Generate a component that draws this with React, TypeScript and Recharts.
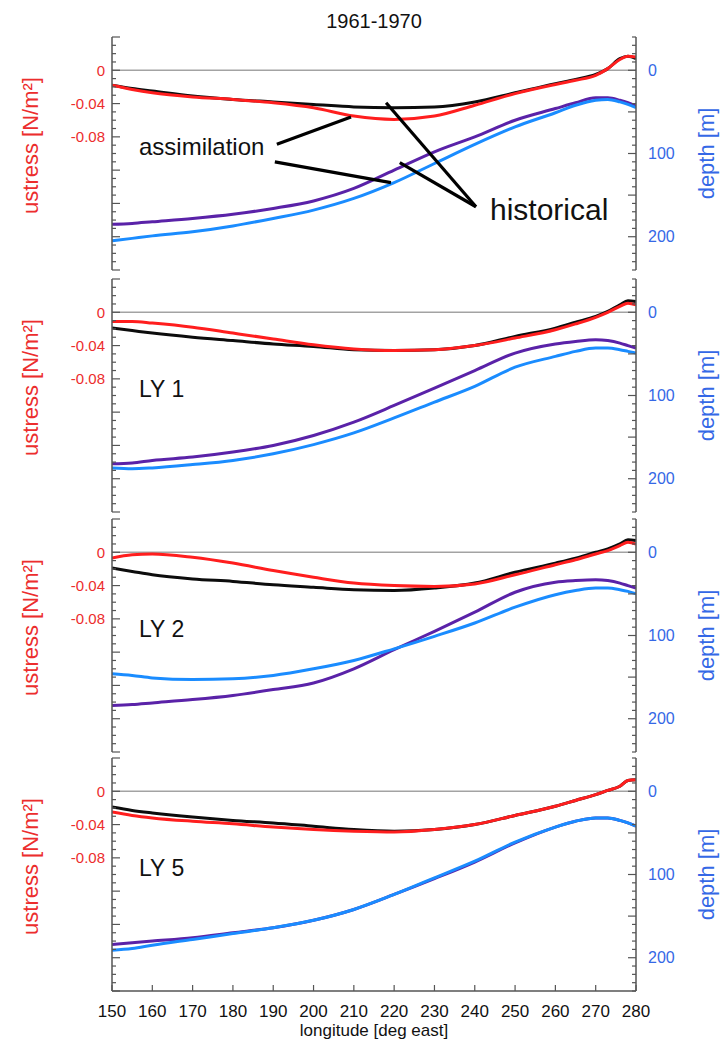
import React from 'react';
import { LineChart, Line, XAxis, YAxis, ReferenceLine } from 'recharts';

const FONT = '"Liberation Sans", Arial, Helvetica, sans-serif';
const RED = '#ff1e1e';
const RED_TXT = '#ec2d2d';
const BLACK = '#0c0c0c';
const PURPLE = '#5a22a8';
const BLUE = '#1a8cff';
const BLUE_TXT = '#3568e6';
const FRAME = '#555';

// longitude grid (deg east)
const lon = [150, 155, 160, 170, 180, 190, 200, 210, 220, 230, 240, 250, 260, 265, 270, 273, 276, 278, 280];

// 1961-1970
const assimStress1 = [-0.018, -0.023, -0.027, -0.032, -0.035, -0.039, -0.045, -0.055, -0.059, -0.055, -0.042, -0.028, -0.017, -0.012, -0.006, 0.002, 0.013, 0.017, 0.016];
const histStress1 = [-0.018, -0.022, -0.025, -0.031, -0.035, -0.038, -0.041, -0.044, -0.045, -0.044, -0.038, -0.027, -0.016, -0.011, -0.005, 0.002, 0.014, 0.017, 0.014];
const histDepth1 = [185, 184, 182, 178, 173, 166, 157, 142, 120, 98, 80, 60, 46, 39, 33, 33, 36, 39, 43];
const assimDepth1 = [205, 202, 199, 194, 187, 178, 168, 154, 135, 112, 89, 68, 51, 42, 36, 35, 38, 41, 45];

// LY 1
const assimStress2 = [-0.011, -0.011, -0.013, -0.018, -0.025, -0.032, -0.039, -0.044, -0.046, -0.045, -0.040, -0.031, -0.021, -0.014, -0.006, 0.000, 0.007, 0.011, 0.009];
const histStress2 = [-0.019, -0.022, -0.025, -0.030, -0.034, -0.038, -0.041, -0.045, -0.046, -0.045, -0.040, -0.029, -0.019, -0.012, -0.005, 0.001, 0.009, 0.014, 0.013];
const histDepth2 = [182, 181, 178, 174, 168, 160, 148, 132, 112, 91, 70, 49, 38, 35, 33, 34, 37, 40, 43];
const assimDepth2 = [187, 188, 187, 183, 178, 170, 159, 145, 127, 108, 89, 66, 53, 47, 43, 43, 45, 47, 49];

// LY 2
const assimStress3 = [-0.007, -0.003, -0.002, -0.006, -0.013, -0.022, -0.030, -0.037, -0.040, -0.041, -0.038, -0.027, -0.015, -0.009, -0.002, 0.002, 0.008, 0.012, 0.010];
const histStress3 = [-0.019, -0.023, -0.027, -0.032, -0.035, -0.039, -0.042, -0.045, -0.046, -0.043, -0.037, -0.024, -0.013, -0.007, 0.000, 0.004, 0.010, 0.015, 0.014];
const histDepth3 = [184, 183, 181, 177, 172, 165, 157, 140, 117, 95, 72, 48, 36, 34, 33, 34, 37, 40, 43];
const assimDepth3 = [146, 148, 151, 153, 152, 148, 140, 130, 116, 101, 85, 66, 51, 46, 43, 43, 45, 47, 50];

// LY 5
const assimStress4 = [-0.025, -0.029, -0.032, -0.036, -0.039, -0.043, -0.046, -0.048, -0.049, -0.046, -0.040, -0.029, -0.018, -0.011, -0.004, 0.001, 0.006, 0.013, 0.014];
const histStress4 = [-0.019, -0.023, -0.026, -0.031, -0.035, -0.038, -0.042, -0.046, -0.048, -0.046, -0.040, -0.029, -0.018, -0.011, -0.004, 0.001, 0.006, 0.013, 0.014];
const histDepth4 = [184, 182, 180, 176, 170, 164, 155, 142, 124, 105, 85, 62, 43, 36, 32, 32, 35, 38, 42];
const assimDepth4 = [191, 189, 185, 178, 171, 164, 155, 142, 124, 104, 84, 61, 43, 36, 32, 32, 35, 38, 42];

const lonTicks = [150, 160, 170, 180, 190, 200, 210, 220, 230, 240, 250, 260, 270, 280];
const stressLabels = [0, -0.04, -0.08];
const depthLabels = [0, 100, 200];
const panelTags = ['', 'LY 1', 'LY 2', 'LY 5'];

// minor tick positions
const stressTicks = Array.from({ length: 29 }, (_, i) => Math.round((0.04 - i * 0.01) * 100) / 100);
const depthTicks = Array.from({ length: 29 }, (_, i) => -40 + i * 10);

const build = (a: number[], h: number[], hd: number[], ad: number[]) =>
  lon.map((x, i) => ({ lon: x, assimStress: a[i], histStress: h[i], histDepth: hd[i], assimDepth: ad[i] }));

const panels = [
  build(assimStress1, histStress1, histDepth1, assimDepth1),
  build(assimStress2, histStress2, histDepth2, assimDepth2),
  build(assimStress3, histStress3, histDepth3, assimDepth3),
  build(assimStress4, histStress4, histDepth4, assimDepth4),
];

// annotation pointers on the top panel, in (lon, depth) units
const pointers = [
  [{ x: 190.9, y: 89 }, { x: 209.3, y: 56 }],
  [{ x: 190.4, y: 110 }, { x: 219.2, y: 135 }],
  [{ x: 240.3, y: 164 }, { x: 218.0, y: 39 }],
  [{ x: 240.3, y: 164 }, { x: 221.4, y: 111 }],
];

const tops = [37, 279, 519, 758];
const H = 233;
const PAD = 4;
const XLAB = 52;

const XTick = (props: any) => {
  const { x, y, payload, side, labels } = props;
  const dir = side === 'top' ? 1 : -1;
  return (
    <g>
      <line x1={x} x2={x} y1={y} y2={y + dir * 6} stroke={FRAME} strokeWidth={1.2} />
      {labels && (
        <text x={x} y={y + 26} textAnchor="middle" fontSize={17} fill="#111" fontFamily={FONT}>
          {payload.value}
        </text>
      )}
    </g>
  );
};

const StressTick = (props: any) => {
  const { x, y, payload } = props;
  const v = payload.value;
  const major = Math.abs(Math.round(v * 100)) % 4 === 0;
  const lab = stressLabels.find((t) => Math.abs(t - v) < 1e-9);
  return (
    <g>
      <line x1={x} x2={x + (major ? 8 : 4)} y1={y} y2={y} stroke={FRAME} strokeWidth={1.2} />
      {lab !== undefined && (
        <text x={x - 7} y={y} dy="0.35em" textAnchor="end" fontSize={15} fill={RED_TXT} fontFamily={FONT}>
          {lab === 0 ? '0' : lab.toFixed(2)}
        </text>
      )}
    </g>
  );
};

const DepthTick = (props: any) => {
  const { x, y, payload } = props;
  const v = payload.value;
  const major = v % 50 === 0;
  const lab = depthLabels.includes(v);
  return (
    <g>
      <line x1={x} x2={x - (major ? 8 : 4)} y1={y} y2={y} stroke={FRAME} strokeWidth={1.2} />
      {lab && (
        <text x={x + 12} y={y} dy="0.35em" textAnchor="start" fontSize={16} fill={BLUE_TXT} fontFamily={FONT}>
          {v}
        </text>
      )}
    </g>
  );
};

const Panel = ({ idx }: { idx: number }) => {
  const last = idx === 3;
  const height = H + PAD + (last ? XLAB : PAD);
  return (
    <div style={{ position: 'absolute', left: 0, top: tops[idx] - PAD }}>
      <LineChart
        width={725}
        height={height}
        data={panels[idx]}
        margin={{ top: PAD, right: 0, bottom: last ? 0 : PAD, left: 0 }}
      >
        <XAxis
          dataKey="lon"
          type="number"
          domain={[150, 280]}
          allowDataOverflow
          ticks={lonTicks}
          interval={0}
          height={last ? XLAB : 0}
          tickSize={0}
          tickMargin={0}
          tickLine={false}
          axisLine={{ stroke: FRAME, strokeWidth: 1.5 }}
          tick={<XTick side="bottom" labels={last} />}
          label={
            last
              ? { value: 'longitude [deg east]', position: 'insideBottom', offset: 7, fill: '#111', fontSize: 17, fontFamily: FONT }
              : undefined
          }
        />
        <XAxis
          xAxisId="top"
          orientation="top"
          type="number"
          domain={[150, 280]}
          allowDataOverflow
          ticks={lonTicks}
          interval={0}
          height={0}
          tickSize={0}
          tickMargin={0}
          tickLine={false}
          axisLine={{ stroke: idx === 0 ? FRAME : '#7a7a7a', strokeWidth: idx === 0 ? 1.5 : 3.5 }}
          tick={<XTick side="top" labels={false} />}
        />
        <YAxis
          yAxisId="u"
          type="number"
          domain={[-0.24, 0.04]}
          allowDataOverflow
          ticks={stressTicks}
          interval={0}
          width={112}
          tickSize={0}
          tickMargin={0}
          tickLine={false}
          axisLine={{ stroke: FRAME, strokeWidth: 1.5 }}
          tick={<StressTick />}
        />
        <YAxis
          yAxisId="d"
          orientation="right"
          type="number"
          domain={[-40, 240]}
          reversed
          allowDataOverflow
          ticks={depthTicks}
          interval={0}
          width={89}
          tickSize={0}
          tickMargin={0}
          tickLine={false}
          axisLine={{ stroke: FRAME, strokeWidth: 1.5 }}
          tick={<DepthTick />}
        />
        <ReferenceLine yAxisId="u" y={0} stroke="#a3a3a3" strokeWidth={1.5} />
        <Line yAxisId="d" type="monotone" dataKey="histDepth" stroke={PURPLE} strokeWidth={3} dot={false} isAnimationActive={false} />
        <Line yAxisId="d" type="monotone" dataKey="assimDepth" stroke={BLUE} strokeWidth={3} dot={false} isAnimationActive={false} />
        <Line yAxisId="u" type="monotone" dataKey="histStress" stroke={BLACK} strokeWidth={3} dot={false} isAnimationActive={false} />
        <Line yAxisId="u" type="monotone" dataKey="assimStress" stroke={RED} strokeWidth={3} dot={false} isAnimationActive={false} />
        {idx === 0 &&
          pointers.map((seg, i) => (
            <ReferenceLine key={i} yAxisId="d" segment={seg} stroke="#000" strokeWidth={3.2} ifOverflow="visible" />
          ))}
      </LineChart>
    </div>
  );
};

export default function App() {
  return (
    <div style={{ position: 'absolute', left: 0, top: 0, width: 725, height: 1042, background: '#fff', fontFamily: FONT }}>
      {[0, 1, 2, 3].map((i) => (
        <Panel key={i} idx={i} />
      ))}
      <svg width={725} height={1042} style={{ position: 'absolute', left: 0, top: 0, pointerEvents: 'none' }} fontFamily={FONT}>
        <text x={374} y={28} textAnchor="middle" fontSize={20} fill="#111">1961-1970</text>
        {tops.map((t, i) => (
          <g key={i}>
            <text transform={`translate(38 ${t + H / 2 - 8}) rotate(-90)`} textAnchor="middle" fontSize={22} fill={RED_TXT}>
              ustress [N/m²]
            </text>
            <text transform={`translate(714 ${t + H / 2}) rotate(-90)`} textAnchor="middle" fontSize={22} fill={BLUE_TXT}>
              depth [m]
            </text>
            {panelTags[i] && (
              <text x={139} y={t + 118} fontSize={23} fill="#111">
                {panelTags[i]}
              </text>
            )}
          </g>
        ))}
        <text x={139} y={155} fontSize={24} fill="#111">assimilation</text>
        <text x={490} y={220} fontSize={30} fill="#111">historical</text>
      </svg>
    </div>
  );
}
